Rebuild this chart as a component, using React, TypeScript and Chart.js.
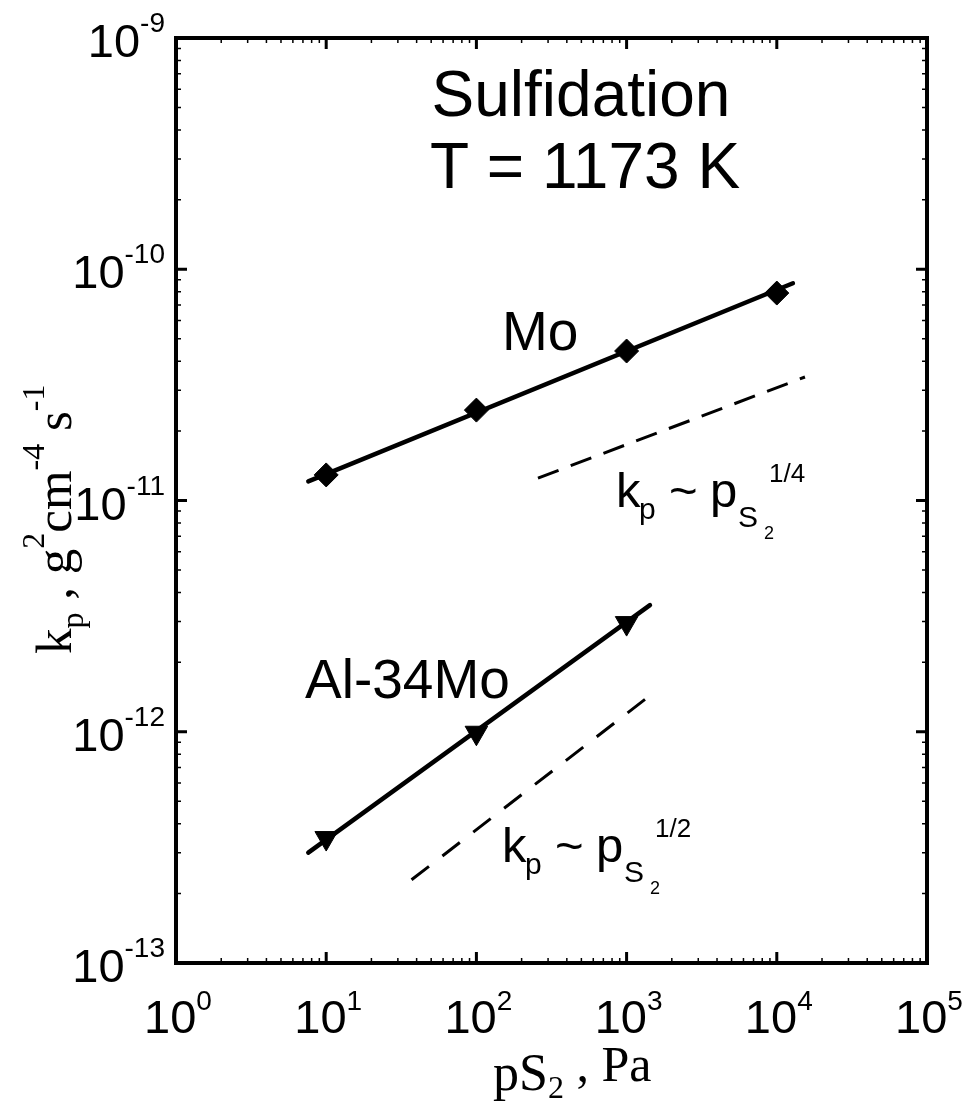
import React, { useEffect, useRef } from 'react';
import { Chart, registerables } from 'chart.js';
Chart.register(...registerables);

// Data (pS2 in Pa, kp in g^2 cm^-4 s^-1)
const moP = [10, 100, 1000, 10000];
const moK = [1.29e-11, 2.46e-11, 4.43e-11, 7.89e-11];
const moFitP = [7.6, 12800];
const moFitK = [1.21e-11, 8.7e-11];
const alP = [10, 100, 1000];
const alK = [3.47e-13, 9.9e-13, 2.95e-12];
const alFitP = [7.6, 1430];
const alFitK = [3.0e-13, 3.53e-12];
const quarterP = [257, 15400];
const quarterK = [1.25e-11, 3.42e-11];
const halfP = [37, 1545];
const halfK = [2.29e-13, 1.49e-12];
const xTickExps = [0, 1, 2, 3, 4, 5];
const yTickExps = [-13, -12, -11, -10, -9];

const SANS = "'Liberation Sans', Arial, sans-serif";
const SERIF = "'Liberation Serif', 'Times New Roman', serif";

type Run = { text: string; font: string; dy?: number; dx?: number };

function runsWidth(ctx: CanvasRenderingContext2D, runs: Run[]) {
  let w = 0;
  for (const r of runs) {
    ctx.font = r.font;
    w += ctx.measureText(r.text).width + (r.dx || 0);
  }
  return w;
}
function drawRuns(ctx: CanvasRenderingContext2D, x: number, y: number, runs: Run[]) {
  let cx = x;
  for (const r of runs) {
    ctx.font = r.font;
    cx += r.dx || 0;
    ctx.fillText(r.text, cx, y + (r.dy || 0));
    cx += ctx.measureText(r.text).width;
  }
}

const pts = (xs: number[], ys: number[]) => xs.map((x, i) => ({ x, y: ys[i] }));

const decorPlugin = {
  id: 'decor',
  afterDraw(chart: any) {
    const ctx: CanvasRenderingContext2D = chart.ctx;
    const xs = chart.scales.x;
    const ys = chart.scales.y;
    const a = chart.chartArea;
    ctx.save();
    ctx.fillStyle = '#000';
    ctx.strokeStyle = '#000';
    ctx.textBaseline = 'alphabetic';
    ctx.textAlign = 'left';

    // ticks
    const xMin = Math.log10(xs.min), xMax = Math.log10(xs.max);
    const yMin = Math.log10(ys.min), yMax = Math.log10(ys.max);
    for (let e = Math.round(xMin); e <= Math.round(xMax); e++) {
      for (let k = 1; k <= 9; k++) {
        const v = k * Math.pow(10, e);
        if (v < xs.min * 0.999 || v > xs.max * 1.001) continue;
        const px = xs.getPixelForValue(v);
        const len = k === 1 ? 11 : 5;
        ctx.lineWidth = k === 1 ? 3 : 1.5;
        ctx.beginPath();
        ctx.moveTo(px, a.bottom); ctx.lineTo(px, a.bottom - len);
        ctx.moveTo(px, a.top); ctx.lineTo(px, a.top + len);
        ctx.stroke();
      }
    }
    for (let e = Math.round(yMin); e <= Math.round(yMax); e++) {
      for (let k = 1; k <= 9; k++) {
        const v = k * Math.pow(10, e);
        if (v < ys.min * 0.999 || v > ys.max * 1.001) continue;
        const py = ys.getPixelForValue(v);
        const len = k === 1 ? 11 : 5;
        ctx.lineWidth = k === 1 ? 3 : 1.5;
        ctx.beginPath();
        ctx.moveTo(a.left, py); ctx.lineTo(a.left + len, py);
        ctx.moveTo(a.right, py); ctx.lineTo(a.right - len, py);
        ctx.stroke();
      }
    }
    // frame
    ctx.lineWidth = 4;
    ctx.strokeRect(a.left, a.top, a.right - a.left, a.bottom - a.top);

    // x tick labels
    for (const e of xTickExps) {
      const px = xs.getPixelForValue(Math.pow(10, e));
      const runs: Run[] = [
        { text: '10', font: `47px ${SANS}` },
        { text: String(e), font: `28px ${SANS}`, dy: -23 },
      ];
      const w = runsWidth(ctx, runs);
      drawRuns(ctx, px - w / 2 + 2, a.bottom + 70, runs);
    }
    // y tick labels
    for (const e of yTickExps) {
      const py = ys.getPixelForValue(Math.pow(10, e));
      const runs: Run[] = [
        { text: '10', font: `47px ${SANS}` },
        { text: String(e), font: `28px ${SANS}`, dy: -25 },
      ];
      const w = runsWidth(ctx, runs);
      drawRuns(ctx, 165 - w, py + 19, runs);
    }

    // x title
    drawRuns(ctx, 493, 1090, [
      { text: 'pS', font: `52px ${SERIF}` },
      { text: '2', font: `32px ${SERIF}`, dy: 8 },
      { text: ' , Pa', font: `50px ${SERIF}`, dy: -9 },
    ]);

    // y title (rotated)
    ctx.save();
    ctx.translate(71, 654);
    ctx.rotate(-Math.PI / 2);
    drawRuns(ctx, 0, 0, [
      { text: 'k', font: `51px ${SERIF}` },
      { text: 'p', font: `32px ${SERIF}`, dy: 12 },
      { text: ' , ', font: `51px ${SERIF}` },
      { text: 'g', font: `51px ${SERIF}` },
      { text: '2', font: `32px ${SERIF}`, dy: -27 },
      { text: 'cm', font: `51px ${SERIF}` },
      { text: '-4', font: `32px ${SERIF}`, dy: -27 },
      { text: ' s', font: `51px ${SERIF}` },
      { text: '-1', font: `32px ${SERIF}`, dy: -27 },
    ]);
    ctx.restore();

    // annotations
    ctx.font = `64px ${SANS}`;
    ctx.textAlign = 'center';
    ctx.fillText('Sulfidation', 581, 116);
    ctx.fillText('T = 1173 K', 585, 188);
    ctx.textAlign = 'left';
    ctx.font = `55px ${SANS}`;
    ctx.fillText('Mo', 502, 350);
    ctx.fillText('Al-34Mo', 305, 698);

    const kp = (x: number, y: number, exp: string) => {
      ctx.font = `49px ${SANS}`;
      ctx.fillText('k', x, y);
      ctx.font = `30px ${SANS}`;
      ctx.fillText('p', x + 23, y + 12);
      ctx.font = `49px ${SANS}`;
      ctx.fillText('~', x + 53, y);
      ctx.fillText('p', x + 94, y);
      ctx.font = `30px ${SANS}`;
      ctx.fillText('S', x + 122, y + 20);
      ctx.font = `18px ${SANS}`;
      ctx.fillText('2', x + 148, y + 32);
      ctx.font = `26px ${SANS}`;
      ctx.fillText(exp, x + 153, y - 25);
    };
    kp(616, 507, '1/4');
    kp(502, 862, '1/2');

    ctx.restore();
  },
};

export default function App() {
  const ref = useRef<HTMLCanvasElement>(null);
  useEffect(() => {
    if (!ref.current) return;
    const line = (xs: number[], ys: number[], dash: number[] = [], w = 4.5) => ({
      data: pts(xs, ys),
      showLine: true,
      borderColor: '#000',
      backgroundColor: '#000',
      borderWidth: w,
      borderDash: dash,
      borderCapStyle: dash.length ? 'butt' : 'round',
      pointRadius: 0,
      pointHoverRadius: 0,
    });
    const chart = new Chart(ref.current, {
      type: 'scatter',
      data: {
        datasets: [
          line(moFitP, moFitK) as any,
          line(alFitP, alFitK) as any,
          line(quarterP, quarterK, [22, 13], 3) as any,
          line(halfP, halfK, [22, 17], 3) as any,
          {
            data: pts(moP, moK),
            showLine: false,
            pointStyle: 'rectRot',
            pointRadius: 12,
            pointBackgroundColor: '#000',
            pointBorderColor: '#000',
            pointBorderWidth: 1,
          },
          {
            data: pts(alP, alK),
            showLine: false,
            pointStyle: 'triangle',
            pointRotation: 180,
            pointRadius: 13,
            pointBackgroundColor: '#000',
            pointBorderColor: '#000',
            pointBorderWidth: 1,
          },
        ],
      },
      options: {
        responsive: false,
        animation: false,
        devicePixelRatio: 1,
        layout: { padding: { left: 176, top: 38, right: 42, bottom: 138 } },
        plugins: { legend: { display: false }, tooltip: { enabled: false } },
        events: [],
        scales: {
          x: { type: 'logarithmic', min: 1, max: 1e5, display: false },
          y: { type: 'logarithmic', min: 1e-13, max: 1e-9, display: false },
        },
      },
      plugins: [decorPlugin],
    });
    return () => chart.destroy();
  }, []);
  return (
    <div style={{ position: 'absolute', left: 0, top: 0, width: 969, height: 1101, background: '#fff' }}>
      <canvas ref={ref} width={969} height={1101} style={{ display: 'block' }} />
    </div>
  );
}
